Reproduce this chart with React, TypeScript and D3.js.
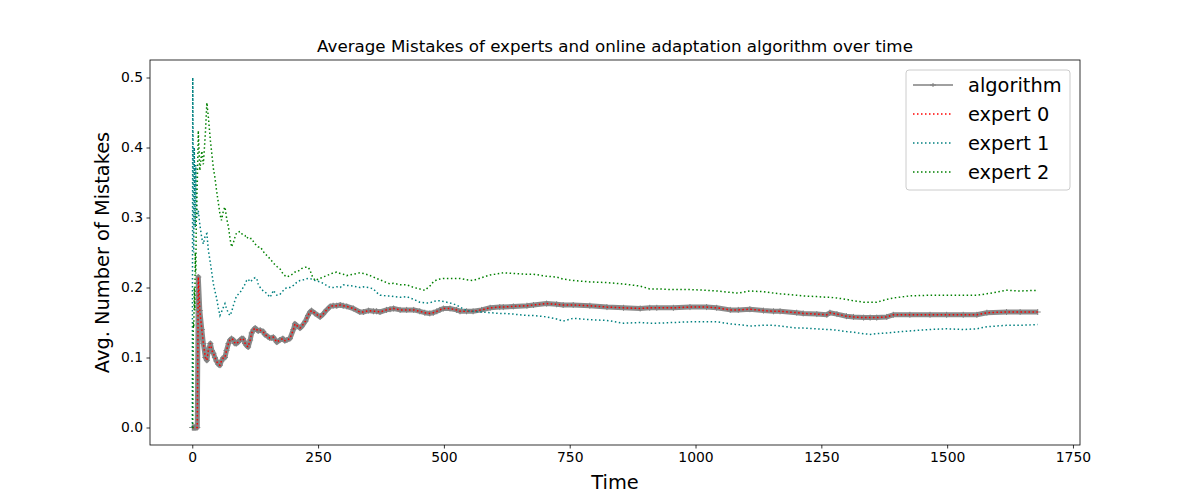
import * as d3 from "d3";
import { useEffect, useRef } from "react";

const times = [
    0, 1, 2, 3, 4, 5, 6, 7, 8, 10,
    12, 15, 19, 22, 26, 29, 32, 36, 39, 42,
    45, 48, 52, 55, 58, 62, 65, 68, 72, 75,
    78, 82, 85, 88, 91, 95, 98, 101, 105, 108,
    111, 115, 118, 122, 125, 128, 131, 135, 141, 144,
    150, 154, 158, 161, 168, 174, 180, 184, 188, 194,
    201, 204, 207, 214, 217, 225, 230, 234, 237, 244,
    254, 260, 267, 274, 280, 287, 294, 300, 307, 320,
    333, 340, 350, 360, 366, 373, 386, 393, 400, 413,
    426, 440, 452, 462, 472, 479, 486, 492, 499, 512,
    525, 532, 545, 558, 575, 592, 611, 618, 638, 665,
    678, 704, 724, 737, 757, 790, 824, 857, 890, 909,
    923, 956, 989, 1022, 1042, 1069, 1085, 1108, 1135, 1155,
    1168, 1201, 1214, 1241, 1261, 1267, 1281, 1300, 1314, 1334,
    1347, 1360, 1380, 1393, 1426, 1466, 1499, 1532, 1559, 1579,
    1618, 1645, 1680,
];

const expert0 = [
    0, 0, 0, 0, 0, 0, 0, 0, 0, 0,
    0.215, 0.167, 0.14, 0.12, 0.1, 0.096, 0.11, 0.12, 0.11, 0.106,
    0.1, 0.095, 0.09, 0.089, 0.095, 0.1, 0.1, 0.11, 0.12, 0.125,
    0.127, 0.125, 0.12, 0.12, 0.122, 0.125, 0.127, 0.127, 0.12, 0.117,
    0.115, 0.125, 0.135, 0.14, 0.142, 0.14, 0.138, 0.139, 0.137, 0.133,
    0.13, 0.128, 0.128, 0.129, 0.122, 0.125, 0.127, 0.124, 0.125, 0.127,
    0.14, 0.148, 0.146, 0.142, 0.144, 0.152, 0.16, 0.165, 0.167, 0.163,
    0.158, 0.162, 0.168, 0.173, 0.174, 0.174, 0.175, 0.174, 0.173, 0.17,
    0.165, 0.165, 0.167, 0.166, 0.166, 0.165, 0.168, 0.169, 0.17, 0.168,
    0.168, 0.168, 0.166, 0.164, 0.163, 0.164, 0.166, 0.168, 0.17, 0.17,
    0.168, 0.166, 0.166, 0.166, 0.168, 0.171, 0.172, 0.172, 0.173, 0.174,
    0.175, 0.177, 0.176, 0.175, 0.175, 0.174, 0.172, 0.171, 0.17, 0.171,
    0.171, 0.171, 0.172, 0.172, 0.171, 0.168, 0.168, 0.169, 0.167, 0.166,
    0.166, 0.164, 0.163, 0.162, 0.161, 0.164, 0.162, 0.159, 0.158, 0.157,
    0.157, 0.157, 0.158, 0.161, 0.161, 0.161, 0.161, 0.161, 0.161, 0.164,
    0.165, 0.165, 0.165,
];

const expert1 = [
    0, 0.5, 0.333, 0.25, 0.4, 0.333, 0.286, 0.375, 0.333, 0.3,
    0.31, 0.29, 0.27, 0.262, 0.275, 0.277, 0.253, 0.235, 0.22, 0.205,
    0.195, 0.186, 0.17, 0.16, 0.165, 0.172, 0.177, 0.17, 0.163, 0.16,
    0.165, 0.175, 0.182, 0.188, 0.19, 0.193, 0.196, 0.2, 0.205, 0.21,
    0.212, 0.208, 0.21, 0.213, 0.214, 0.213, 0.205, 0.2, 0.195, 0.194,
    0.19, 0.186, 0.19, 0.196, 0.189, 0.19, 0.195, 0.198, 0.2, 0.2,
    0.203, 0.205, 0.207, 0.21, 0.21, 0.212, 0.213, 0.213, 0.212, 0.21,
    0.208, 0.206, 0.203, 0.2, 0.2, 0.201, 0.2, 0.204, 0.203, 0.202,
    0.2, 0.201, 0.2, 0.198, 0.193, 0.189, 0.188, 0.188, 0.187, 0.186,
    0.187, 0.183, 0.179, 0.178, 0.178, 0.18, 0.181, 0.181, 0.18, 0.178,
    0.175, 0.172, 0.167, 0.166, 0.165, 0.164, 0.163, 0.163, 0.162, 0.16,
    0.16, 0.158, 0.155, 0.152, 0.156, 0.154, 0.153, 0.149, 0.15, 0.149,
    0.149, 0.15, 0.151, 0.151, 0.151, 0.148, 0.147, 0.145, 0.146, 0.146,
    0.145, 0.142, 0.142, 0.141, 0.14, 0.14, 0.139, 0.137, 0.136, 0.134,
    0.133, 0.134, 0.135, 0.136, 0.138, 0.14, 0.141, 0.14, 0.141, 0.144,
    0.146, 0.146, 0.147,
];

const expert2 = [
    0, 0, 0.15, 0.143, 0.2, 0.167, 0.25, 0.22, 0.3, 0.35,
    0.424, 0.367, 0.395, 0.376, 0.42, 0.464, 0.443, 0.41, 0.39, 0.37,
    0.357, 0.34, 0.32, 0.305, 0.296, 0.31, 0.315, 0.3, 0.286, 0.27,
    0.258, 0.265, 0.272, 0.278, 0.279, 0.28, 0.277, 0.275, 0.274, 0.27,
    0.272, 0.27, 0.27, 0.265, 0.262, 0.26, 0.258, 0.258, 0.252, 0.248,
    0.245, 0.241, 0.238, 0.235, 0.23, 0.227, 0.22, 0.217, 0.215, 0.217,
    0.22, 0.222, 0.222, 0.225, 0.227, 0.229, 0.229, 0.225, 0.218, 0.21,
    0.213, 0.215, 0.217, 0.219, 0.221, 0.222, 0.22, 0.219, 0.217, 0.219,
    0.221, 0.22, 0.218, 0.215, 0.213, 0.211, 0.207, 0.205, 0.206, 0.204,
    0.204, 0.2, 0.198, 0.196, 0.202, 0.208, 0.211, 0.212, 0.213, 0.213,
    0.213, 0.213, 0.211, 0.21, 0.214, 0.218, 0.22, 0.221, 0.22, 0.219,
    0.219, 0.216, 0.215, 0.212, 0.21, 0.208, 0.207, 0.205, 0.202, 0.198,
    0.198, 0.197, 0.197, 0.196, 0.195, 0.193, 0.192, 0.195, 0.194, 0.192,
    0.191, 0.189, 0.188, 0.187, 0.186, 0.186, 0.185, 0.183, 0.181, 0.179,
    0.179, 0.179, 0.183, 0.185, 0.188, 0.189, 0.189, 0.189, 0.189, 0.191,
    0.196, 0.195, 0.196,
];

// the algorithm follows expert 0 exactly in the picture
const algorithm = expert0;

const xTicks = [0, 250, 500, 750, 1000, 1250, 1500, 1750];
const yTicks = [0, 0.1, 0.2, 0.3, 0.4, 0.5];

const series = [
    { name: "expert 0", values: expert0, color: "red" },
    { name: "expert 1", values: expert1, color: "teal" },
    { name: "expert 2", values: expert2, color: "green" },
];

const FONT = "DejaVu Sans, sans-serif";

export default function App() {
    const svgRef = useRef<SVGSVGElement | null>(null);

    useEffect(() => {
        document.body.style.margin = "0";
        if (!svgRef.current) return;

        const svg = d3.select(svgRef.current);
        const totalW = 1200;
        const totalH = 500;
        const margin = { top: 60, right: 120, bottom: 55, left: 150 };
        const W = totalW - margin.left - margin.right;
        const H = totalH - margin.top - margin.bottom;

        svg.attr("width", totalW).attr("height", totalH);
        svg.selectAll("*").remove();
        svg.append("rect").attr("width", totalW).attr("height", totalH).attr("fill", "white");

        const g = svg.append("g").attr("transform", `translate(${margin.left},${margin.top})`);

        const x = d3.scaleLinear().domain([-84, 1764]).range([0, W]);
        const y = d3.scaleLinear().domain([-0.025, 0.525]).range([H, 0]);

        const line = d3
            .line<number>()
            .x((d, i) => x(times[i]))
            .y((d) => y(d));

        // algorithm: gray line with dense "+" markers -> thick gray band
        g.append("path")
            .datum(algorithm)
            .attr("fill", "none")
            .attr("stroke", "#8a8a8a")
            .attr("stroke-width", 5)
            .attr("stroke-linejoin", "round")
            .attr("d", line);

        g.append("g")
            .selectAll("path")
            .data(algorithm)
            .join("path")
            .attr("d", (d, i) => {
                const cx = x(times[i]);
                const cy = y(d);
                return `M${cx - 3},${cy}H${cx + 3}M${cx},${cy - 3}V${cy + 3}`;
            })
            .attr("stroke", "#808080")
            .attr("stroke-width", 1);

        g.append("path")
            .datum(algorithm)
            .attr("fill", "none")
            .attr("stroke", "gray")
            .attr("stroke-width", 1.5)
            .attr("d", line);

        series.forEach((s) => {
            g.append("path")
                .datum(s.values)
                .attr("fill", "none")
                .attr("stroke", s.color)
                .attr("stroke-width", 1.5)
                .attr("stroke-dasharray", "1.5,2.5")
                .attr("d", line);
        });

        // axes
        const xAxis = g
            .append("g")
            .attr("transform", `translate(0,${H})`)
            .call(d3.axisBottom(x).tickValues(xTicks).tickSize(3.5).tickPadding(3.5).tickFormat(d3.format("d")));
        const yAxis = g
            .append("g")
            .call(d3.axisLeft(y).tickValues(yTicks).tickSize(3.5).tickPadding(3.5).tickFormat(d3.format(".1f")));

        [xAxis, yAxis].forEach((a) => {
            a.select(".domain").remove();
            a.selectAll(".tick line").attr("stroke", "black").attr("stroke-width", 0.8);
            a.selectAll(".tick text").attr("font-family", FONT).attr("font-size", 13.9).attr("fill", "black");
        });

        g.append("rect")
            .attr("width", W)
            .attr("height", H)
            .attr("fill", "none")
            .attr("stroke", "black")
            .attr("stroke-width", 0.8);

        // labels
        svg.append("text")
            .attr("x", margin.left + W / 2)
            .attr("y", 52)
            .attr("text-anchor", "middle")
            .attr("font-family", FONT)
            .attr("font-size", 16.7)
            .text("Average Mistakes of experts and online adaptation algorithm over time");

        svg.append("text")
            .attr("x", margin.left + W / 2)
            .attr("y", 489)
            .attr("text-anchor", "middle")
            .attr("font-family", FONT)
            .attr("font-size", 19.4)
            .text("Time");

        svg.append("text")
            .attr("transform", `translate(109,${margin.top + H / 2}) rotate(-90)`)
            .attr("text-anchor", "middle")
            .attr("font-family", FONT)
            .attr("font-size", 19.4)
            .text("Avg. Number of Mistakes");

        // legend
        const lg = svg.append("g").attr("transform", "translate(906,70)");
        lg.append("rect")
            .attr("width", 164)
            .attr("height", 120)
            .attr("rx", 3)
            .attr("fill", "white")
            .attr("fill-opacity", 0.8)
            .attr("stroke", "#cccccc")
            .attr("stroke-width", 1);

        const entries = [{ name: "algorithm", color: "gray", dashed: false }].concat(
            series.map((s) => ({ name: s.name, color: s.color, dashed: true }))
        );
        entries.forEach((e, i) => {
            const cy = 15 + i * 29;
            lg.append("line")
                .attr("x1", 7)
                .attr("x2", 47)
                .attr("y1", cy)
                .attr("y2", cy)
                .attr("stroke", e.color)
                .attr("stroke-width", 1.5)
                .attr("stroke-dasharray", e.dashed ? "1.5,2.5" : null);
            if (!e.dashed) {
                lg.append("path")
                    .attr("d", `M24,${cy}H30M27,${cy - 2}V${cy + 2}`)
                    .attr("stroke", "#808080")
                    .attr("stroke-width", 1);
            }
            lg.append("text")
                .attr("x", 62)
                .attr("y", cy)
                .attr("dy", "0.35em")
                .attr("font-family", FONT)
                .attr("font-size", 19.4)
                .text(e.name);
        });
    }, []);

    return <svg ref={svgRef} style={{ display: "block" }} />;
}
